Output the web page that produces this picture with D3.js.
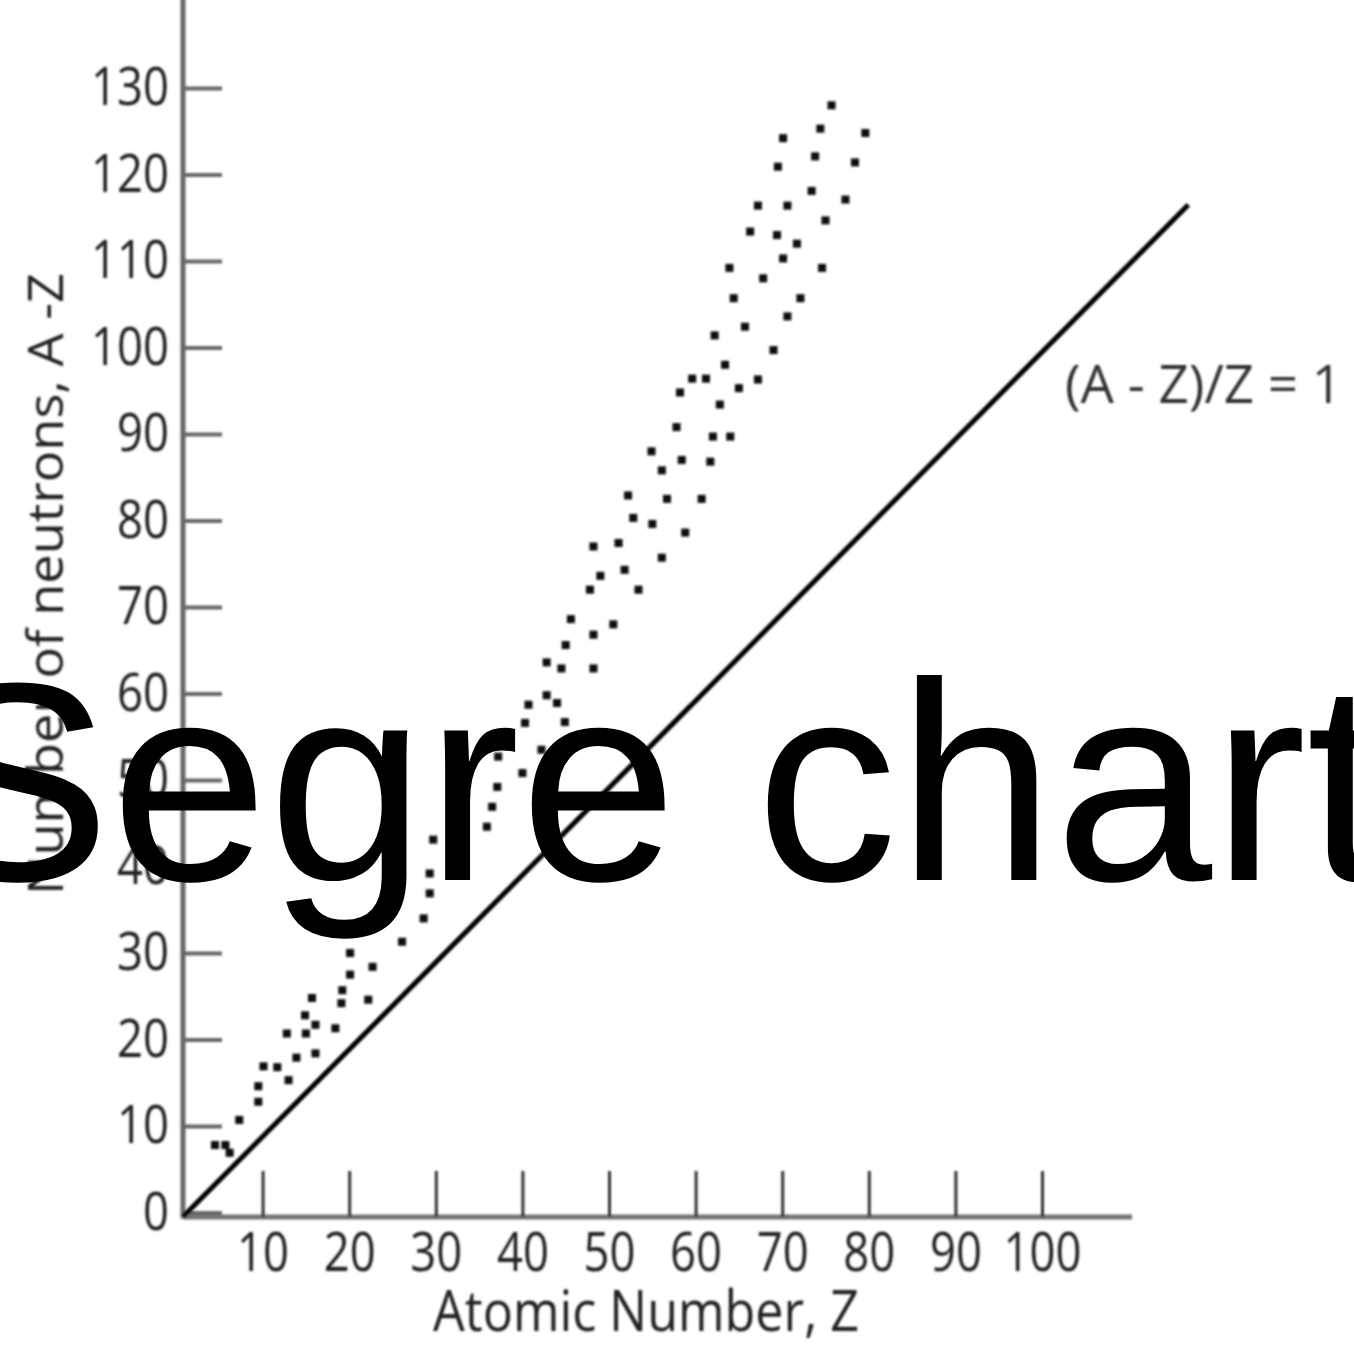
<html>
<!-- Segre chart: neutron number against atomic number for the stable nuclides -->
<script src="https://d3js.org/d3.v7.min.js"></script>

<style>
  body {margin: 0; background: white;}
  svg text {font-family: 'Open Sans', 'DejaVu Sans', sans-serif;}
</style>

<body>
<svg width=1354 height=1347></svg>

<script>
// stable nuclides: atomic number Z and neutron number A - Z
var protons = [75.7, 74.4, 79.6, 70.1, 73.8, 78.4, 69.5, 73.4, 77.3, 67.2,
               70.6, 75.0, 66.3, 69.4, 71.7, 70.1, 63.9, 74.6, 67.8, 64.4,
               72.1, 70.6, 62.2, 65.7, 69.0, 63.4, 67.2, 65.0, 62.8, 58.2,
               59.6, 61.2, 57.8, 62.0, 64.0, 54.9, 58.4, 61.7, 56.1, 52.2,
               56.7, 60.7, 52.8, 55.0, 58.8, 48.2, 51.1, 56.1, 49.0, 51.8,
               47.8, 53.4, 45.6, 50.5, 48.2, 45.0, 42.8, 44.5, 48.2, 42.8,
               44.0, 40.7, 40.3, 44.9, 42.2, 37.2, 40.0, 37.1, 36.5, 32.8,
               32.2, 35.9, 29.7, 32.2, 29.3, 29.3, 28.6, 26.1, 20.1, 22.7,
               20.1, 19.2, 22.2, 15.7, 19.1, 14.9, 16.1, 18.4, 12.8, 15.0,
               13.9, 16.1, 10.1, 11.7, 13.0, 9.5, 9.5, 7.3, 4.5, 5.7, 6.2];
var neutrons = [128.0, 125.3, 124.8, 124.2, 122.1, 121.4, 120.9, 118.1, 117.1, 116.4,
                116.4, 114.7, 113.4, 113.0, 112.0, 110.3, 109.2, 109.2, 108.0, 105.7,
                105.7, 103.6, 101.4, 102.4, 99.7, 98.0, 96.3, 95.3, 93.4, 94.8,
                96.4, 96.4, 90.8, 89.7, 89.7, 88.0, 87.0, 86.8, 85.8, 82.9,
                82.5, 82.5, 80.3, 79.6, 78.6, 77.0, 77.4, 75.7, 73.6, 74.3,
                72.0, 72.0, 68.6, 68.0, 66.8, 65.6, 63.6, 62.9, 62.9, 59.8,
                58.9, 58.7, 56.6, 56.7, 53.5, 52.7, 50.8, 49.2, 46.9, 47.9,
                45.6, 44.6, 43.1, 40.6, 39.2, 36.9, 34.0, 31.3, 30.0, 28.4,
                27.5, 25.7, 24.6, 24.8, 24.2, 22.8, 21.7, 21.3, 20.7, 20.7,
                17.9, 18.4, 16.9, 16.8, 15.3, 14.6, 12.8, 10.7, 7.8, 7.8, 6.9];

// the (A - Z)/Z = 1 reference line, end points as drawn
var lineZ = [0.8, 116.9];
var lineN = [-0.5, 116.5];

var xTicks = [10, 20, 30, 40, 50, 60, 70, 80, 90, 100];
var yTicks = [0, 10, 20, 30, 40, 50, 60, 70, 80, 90, 100, 110, 120, 130];

var svg = d3.select('svg');

svg.append('rect').attr('width', 1354).attr('height', 1347).attr('fill', 'white');

// soft blur, the original is a small scan
var defs = svg.append('defs');
defs.append('filter').attr('id', 'soft')
    .attr('x', 0).attr('y', 0).attr('width', 1354).attr('height', 1347)
    .attr('filterUnits', 'userSpaceOnUse')
  .append('feGaussianBlur').attr('stdDeviation', 0.8);

var xs = d3.scaleLinear().domain([0, 100]).range([176, 1042]);
var ys = d3.scaleLinear().domain([0, 130]).range([1212.5, 88]);

var chart = svg.append('g').attr('filter', 'url(#soft)');

// axis lines
chart.append('line')
  .attr('x1', 183).attr('x2', 183)
  .attr('y1', ys(140.5)).attr('y2', ys(-0.7))
  .attr('stroke', '#666').attr('stroke-width', 5);
chart.append('line')
  .attr('x1', 183).attr('x2', xs(110.4))
  .attr('y1', 1217).attr('y2', 1217)
  .attr('stroke', '#737373').attr('stroke-width', 5);

// y axis: ticks pointing inward, labels outside
var yAxis = d3.axisLeft(ys)
  .tickValues(yTicks)
  .tickSize(-39)
  .tickSizeOuter(0)
  .tickPadding(14)
  .tickFormat(d3.format('d'));

var gy = chart.append('g').attr('transform', 'translate(183,0)').call(yAxis);
gy.select('.domain').remove();
gy.selectAll('.tick line').attr('stroke', '#666').attr('stroke-width', 4);
gy.selectAll('.tick text')
  .attr('font-size', 53)
  .attr('font-family', null)
  .attr('font-weight', 500)
  .attr('fill', '#222')
  .attr('textLength', function(d) { return 26 * String(d).length; })
  .attr('lengthAdjust', 'spacingAndGlyphs');

// x axis: ticks pointing up
var xAxis = d3.axisBottom(xs)
  .tickValues(xTicks)
  .tickSize(-46)
  .tickSizeOuter(0)
  .tickPadding(16)
  .tickFormat(d3.format('d'));

var gx = chart.append('g').attr('transform', 'translate(0,1217)').call(xAxis);
gx.select('.domain').remove();
gx.selectAll('.tick line').attr('stroke', '#333').attr('stroke-width', 3);
gx.selectAll('.tick text')
  .attr('font-size', 54)
  .attr('font-family', null)
  .attr('font-weight', 500)
  .attr('fill', '#222')
  .attr('textLength', function(d) { return 26 * String(d).length; })
  .attr('lengthAdjust', 'spacingAndGlyphs');

// N = Z line
chart.append('line')
  .attr('x1', xs(lineZ[0])).attr('y1', ys(lineN[0]))
  .attr('x2', xs(lineZ[1])).attr('y2', ys(lineN[1]))
  .attr('stroke', '#000').attr('stroke-width', 5);

// the nuclides
chart.append('g')
  .selectAll('rect')
  .data(protons)
  .join('rect')
    .attr('x', function(d) { return xs(d) - 4; })
    .attr('y', function(d, i) { return ys(neutrons[i]) - 4; })
    .attr('width', 8)
    .attr('height', 8)
    .attr('fill', '#0d0d0d');

// labels
chart.append('text')
  .attr('x', 646).attr('y', 1331)
  .attr('text-anchor', 'middle')
  .attr('font-size', 56)
  .attr('font-weight', 500)
  .attr('fill', '#222')
  .attr('textLength', 426)
  .attr('lengthAdjust', 'spacingAndGlyphs')
  .text('Atomic Number, Z');

chart.append('text')
  .attr('transform', 'translate(63,584) rotate(-90)')
  .attr('text-anchor', 'middle')
  .attr('font-size', 50)
  .attr('font-weight', 500)
  .attr('fill', '#222')
  .attr('textLength', 622)
  .attr('lengthAdjust', 'spacingAndGlyphs')
  .text('Number of neutrons, A -Z');

chart.append('text')
  .attr('x', 1065).attr('y', 403)
  .attr('font-size', 53)
  .attr('fill', '#333')
  .attr('textLength', 277)
  .attr('lengthAdjust', 'spacingAndGlyphs')
  .text('(A - Z)/Z = 1');

// big caption laid over the chart
svg.append('text')
  .attr('x', -78).attr('y', 880)
  .attr('font-size', 283)
  .style('font-family', "'Liberation Sans', Arial, sans-serif")
  .attr('fill', 'black')
  .text('Segre chart');
</script>
</body>
</html>
